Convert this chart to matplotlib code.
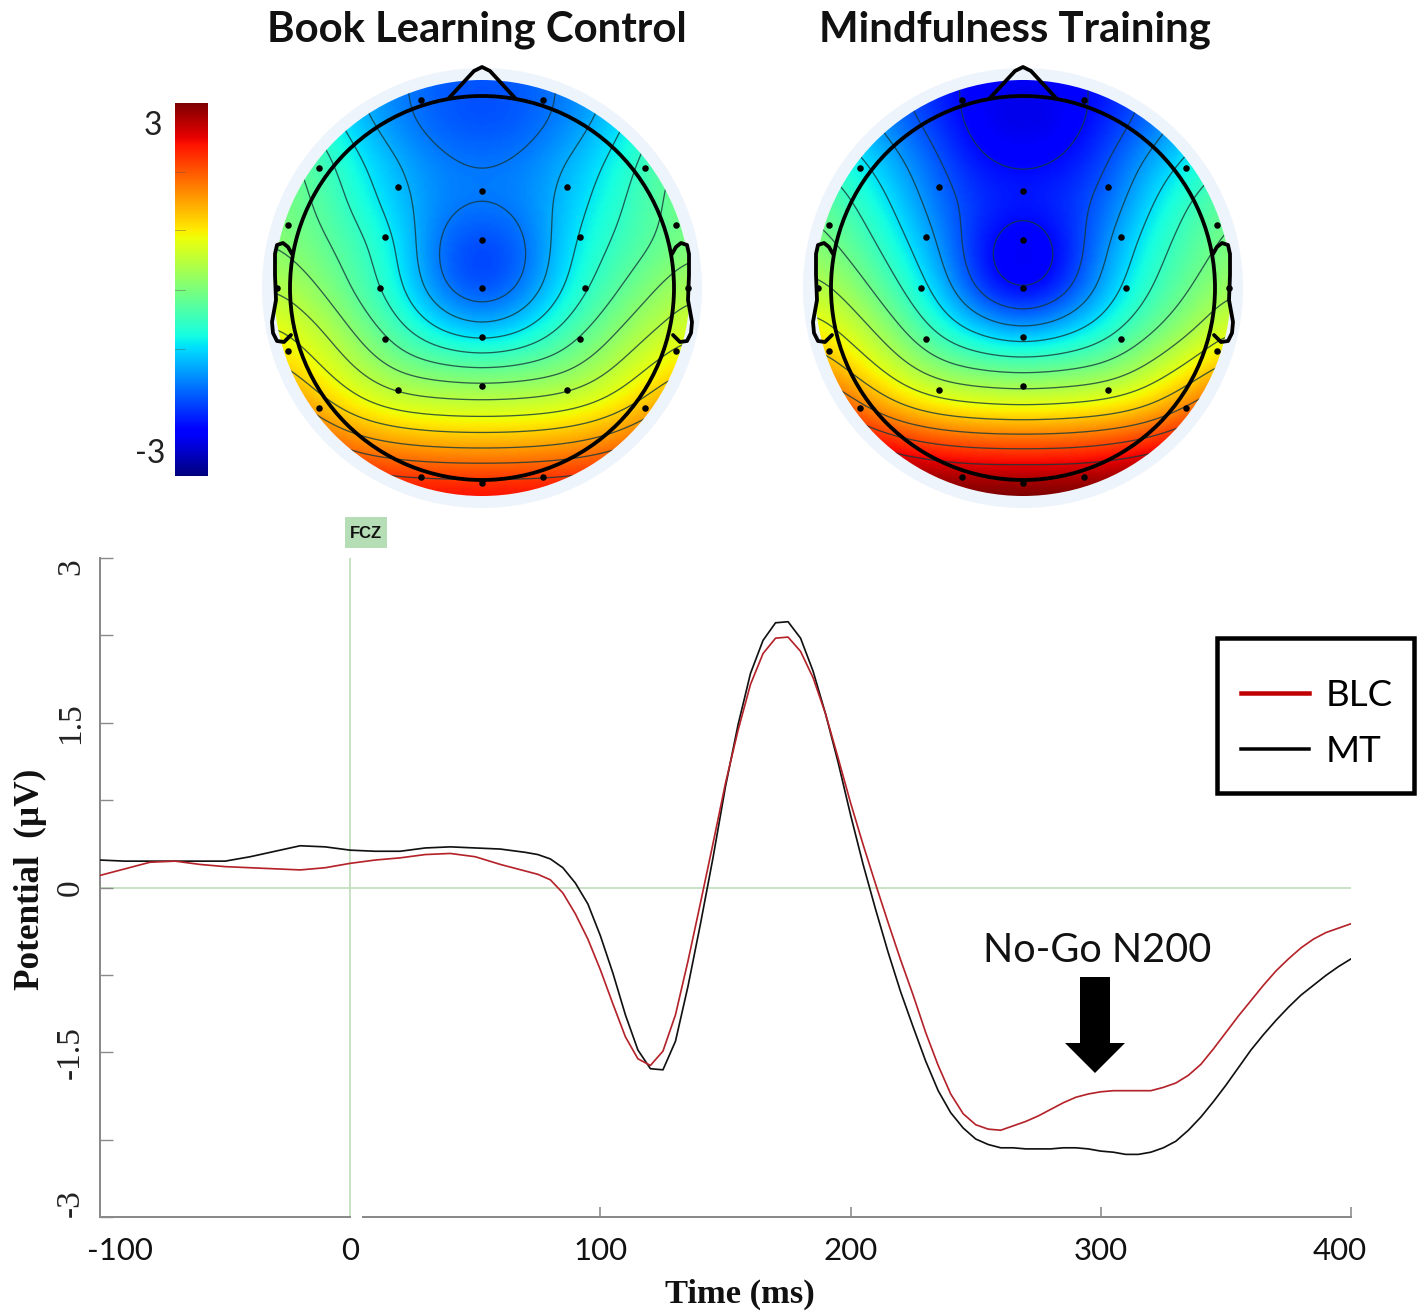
#!/usr/bin/env python3
"""
No-Go N200: scalp maps for both groups and the FCZ waveform below them
"""

import numpy as np
import matplotlib
matplotlib.use('Agg')
import matplotlib.pyplot as plt
from matplotlib.lines import Line2D
from matplotlib.patches import Circle, FancyArrow, Rectangle

# waveform at FCZ (ms, uV)
times = [-100, -90, -80, -70, -60, -50, -40, -30, -20, -10, 0, 10, 20, 30, 40, 50, 60, 70,
         75, 80, 85, 90, 95, 100, 105, 110, 115, 120, 125, 130, 135, 140, 145, 150, 155, 160,
         165, 170, 175, 180, 185, 190, 195, 200, 205, 210, 215, 220, 225, 230, 235, 240, 245,
         250, 255, 260, 265, 270, 275, 280, 285, 290, 295, 300, 305, 310, 315, 320, 325, 330,
         335, 340, 345, 350, 355, 360, 365, 370, 375, 380, 385, 390, 395, 400]
blc_uv = [0.11, 0.17, 0.23, 0.24, 0.21, 0.19, 0.18, 0.17, 0.16, 0.18, 0.22, 0.25, 0.27, 0.30, 0.31, 0.28, 0.21, 0.15,
          0.12, 0.07, -0.05, -0.24, -0.47, -0.75, -1.06, -1.36, -1.56, -1.62, -1.49, -1.16, -0.67, -0.14, 0.40, 0.95, 1.43, 1.85,
          2.13, 2.27, 2.28, 2.15, 1.91, 1.58, 1.18, 0.77, 0.39, 0.03, -0.32, -0.66, -0.98, -1.32, -1.62, -1.88, -2.06,
          -2.16, -2.20, -2.21, -2.17, -2.13, -2.08, -2.02, -1.96, -1.91, -1.88, -1.86, -1.85, -1.85, -1.85, -1.85, -1.82, -1.78,
          -1.71, -1.61, -1.47, -1.32, -1.17, -1.03, -0.89, -0.76, -0.65, -0.55, -0.47, -0.41, -0.37, -0.33]
mt_uv = [0.25, 0.24, 0.24, 0.24, 0.24, 0.24, 0.28, 0.33, 0.38, 0.37, 0.34, 0.33, 0.33, 0.36, 0.37, 0.36, 0.35, 0.32,
         0.30, 0.26, 0.18, 0.04, -0.15, -0.44, -0.78, -1.16, -1.48, -1.65, -1.66, -1.40, -0.90, -0.33, 0.27, 0.92, 1.48, 1.95,
         2.25, 2.41, 2.42, 2.27, 1.97, 1.58, 1.14, 0.66, 0.21, -0.20, -0.59, -0.95, -1.27, -1.58, -1.85, -2.05, -2.19,
         -2.29, -2.34, -2.37, -2.37, -2.38, -2.38, -2.38, -2.37, -2.37, -2.38, -2.40, -2.41, -2.43, -2.43, -2.41, -2.37, -2.31,
         -2.21, -2.09, -1.95, -1.80, -1.64, -1.48, -1.34, -1.21, -1.09, -0.98, -0.89, -0.80, -0.72, -0.65]

# scalp potential, rows run front to back
blc_map = [
    [-0.6, -0.9, -1.3, -1.5, -1.7, -1.75, -1.7, -1.5, -1.3, -0.9, -0.6],
    [-0.3, -0.6, -1.1, -1.5, -1.75, -1.85, -1.75, -1.5, -1.1, -0.6, -0.3],
    [0.0, -0.3, -0.8, -1.2, -1.5, -1.55, -1.5, -1.2, -0.85, -0.4, 0.0],
    [0.0, -0.2, -0.65, -1.1, -1.45, -1.5, -1.45, -1.1, -0.7, -0.3, 0.0],
    [0.1, -0.1, -0.4, -0.85, -1.7, -1.95, -1.7, -0.95, -0.55, -0.25, 0.0],
    [0.45, 0.15, -0.3, -0.8, -1.6, -1.95, -1.6, -0.85, -0.35, 0.05, 0.4],
    [0.85, 0.55, 0.05, -0.45, -0.95, -1.2, -0.95, -0.45, 0.0, 0.4, 0.7],
    [1.25, 0.9, 0.45, 0.05, -0.05, -0.1, -0.05, 0.05, 0.4, 0.85, 1.15],
    [1.9, 1.4, 1.0, 0.8, 0.72, 0.7, 0.72, 0.8, 1.0, 1.35, 1.8],
    [2.5, 2.15, 1.85, 1.7, 1.62, 1.6, 1.62, 1.7, 1.85, 2.15, 2.5],
    [2.8, 2.7, 2.6, 2.55, 2.55, 2.55, 2.55, 2.55, 2.6, 2.7, 2.8],
]
mt_map = [
    [-1.1, -1.4, -1.8, -2.1, -2.3, -2.35, -2.3, -2.1, -1.8, -1.4, -1.1],
    [-0.9, -1.2, -1.6, -2.0, -2.45, -2.55, -2.45, -2.05, -1.65, -1.2, -0.9],
    [-0.5, -0.8, -1.25, -1.75, -2.2, -2.25, -2.2, -1.8, -1.25, -0.8, -0.45],
    [-0.1, -0.5, -1.0, -1.6, -1.95, -2.05, -1.95, -1.65, -0.95, -0.45, -0.1],
    [0.1, -0.25, -0.75, -1.35, -2.2, -2.55, -2.2, -1.35, -0.7, -0.3, 0.05],
    [0.5, 0.1, -0.45, -1.1, -2.05, -2.5, -2.05, -1.15, -0.55, -0.1, 0.3],
    [1.0, 0.55, 0.0, -0.65, -1.1, -1.35, -1.1, -0.7, -0.2, 0.25, 0.75],
    [1.55, 1.1, 0.55, 0.1, -0.05, -0.1, -0.05, 0.05, 0.45, 0.95, 1.45],
    [2.4, 1.85, 1.35, 1.1, 1.0, 0.95, 1.0, 1.1, 1.3, 1.8, 2.3],
    [3.0, 2.85, 2.6, 2.4, 2.3, 2.3, 2.3, 2.4, 2.6, 2.85, 3.0],
    [3.2, 3.2, 3.2, 3.2, 3.2, 3.2, 3.2, 3.2, 3.2, 3.2, 3.2],
]

# electrode offsets from the head centre (pixels)
elec_dx = [-61, 61, -163, 163, -84, 0, 85, -97, 0, 98, -102, 0, 103, -97, 0, 98,
           -84, 0, 85, -163, 163, -61, 0, 61, -194, 194, -194, 194, -205, 206]
elec_dy = [-188, -188, -120, -120, -101, -97, -101, -51, -48, -51, 0, 0, 0, 51, 49, 51,
           102, 98, 102, 120, 120, 189, 195, 189, -63, -63, 63, 63, 0, 0]

y_major = [-3, -1.5, 0, 1.5, 3]
y_labels = ['-3', '-1.5', '0', '1.5', '3']
y_minor = [-2.3, -0.8, 0.8, 2.3]
x_major = [-100, 0, 100, 200, 300, 400]
# end labels sit inside the axis ends (pixels)
x_label_shift = {-100: 20, 400: -11}

PX_W, PX_H = 1424, 1312
HEAD_R = 192
DISC_R = 208
HALO_R = 220
HEAD_Y = 288
SANS = 'Lato'
SERIF = 'Liberation Serif'


def px(n):
    # pixels to points at dpi 100
    return n * 0.72


def smooth_field(rows):
    coarse = np.array(rows, dtype=float)
    n = coarse.shape[0]
    step = 16
    idx = np.arange(n)
    fine = np.linspace(0, n - 1, (n - 1) * step + 1)
    field = np.array([np.interp(fine, idx, r) for r in coarse])
    field = np.array([np.interp(fine, idx, c) for c in field.T]).T
    kernel = np.ones(step + 1) / (step + 1)
    pad = step // 2
    for _ in range(2):
        for axis in (0, 1):
            padded = np.pad(field, [(pad, pad) if a == axis else (0, 0) for a in (0, 1)], mode='edge')
            field = np.apply_along_axis(lambda v: np.convolve(v, kernel, mode='valid'), axis, padded)
    return field


def draw_head(ax, cx, rows, levels):
    ax.add_patch(Circle((cx, HEAD_Y), HALO_R, facecolor='#eef4fb', edgecolor='none', zorder=1))

    span = HEAD_R * 1.1
    field = smooth_field(rows)
    disc = Circle((cx, HEAD_Y), DISC_R, transform=ax.transData)
    im = ax.imshow(field, cmap='jet', vmin=-3, vmax=3, interpolation='bilinear', aspect='auto',
                   extent=(cx - span, cx + span, HEAD_Y + span, HEAD_Y - span), zorder=2)
    im.set_clip_path(disc)

    xs = np.linspace(cx - span, cx + span, field.shape[1])
    ys = np.linspace(HEAD_Y - span, HEAD_Y + span, field.shape[0])
    cs = ax.contour(xs, ys, field, levels=levels, colors='#14393c', linewidths=px(1.3), linestyles='solid',
                    alpha=0.8, zorder=3)
    cs.set_clip_path(disc)

    # head outline, nose and ears
    outline = dict(color='black', lw=px(3.8), solid_joinstyle='round', solid_capstyle='round', zorder=5)
    ax.add_patch(Circle((cx, HEAD_Y), HEAD_R, fill=False, edgecolor='black', lw=px(3.8), zorder=5))
    ax.plot([cx - 33, cx - 8, cx, cx + 8, cx + 33], [98, 71, 67, 71, 98], **outline)
    ear_x = np.array([-190, -194, -199, -205, -207, -207, -206, -210, -209, -205, -198, -191])
    ear_y = [254, 247, 243, 245, 254, 275, 300, 322, 333, 341, 342, 335]
    ax.plot(cx + ear_x, ear_y, **outline)
    ax.plot(cx - ear_x, ear_y, **outline)

    ax.scatter(cx + np.array(elec_dx), HEAD_Y + np.array(elec_dy), s=22, color='black', linewidths=0, zorder=6)


fig = plt.figure(figsize=(PX_W / 100, PX_H / 100), dpi=100, facecolor='white')

# === waveform ===
ax = fig.add_axes([100 / PX_W, 1 - 1217 / PX_H, 1251 / PX_W, 659 / PX_H])
ax.set_xlim(-100, 400)
ax.set_ylim(-3, 3)
ax.patch.set_alpha(0)

green = '#c3dfbf'
ax.axvline(0, color=green, lw=px(1.8), zorder=1)
ax.axhline(0, color=green, lw=px(1.8), zorder=1)
ax.plot(times, mt_uv, color='#111111', lw=px(1.7), zorder=3)
ax.plot(times, blc_uv, color='#b5232a', lw=px(1.7), zorder=4)

for side in ('top', 'right', 'bottom'):
    ax.spines[side].set_visible(False)
ax.spines['left'].set_color('#8a8a8a')
ax.spines['left'].set_linewidth(px(2))
# the baseline is broken just after stimulus onset
ax.plot([-100, 0], [-3, -3], color='#8a8a8a', lw=px(2), clip_on=False, zorder=2)
ax.plot([5, 400], [-3, -3], color='#8a8a8a', lw=px(2), clip_on=False, zorder=2)

ax.set_xticks(x_major[2:])
ax.set_xticks(x_major[:2], minor=True)
ax.tick_params(axis='x', which='major', direction='in', length=px(10), width=px(1.6), color='#8a8a8a', labelbottom=False)
ax.tick_params(axis='x', which='minor', length=0, labelbottom=False)
for t in x_major:
    ax.annotate(str(t), xy=(t, -3), xytext=(px(x_label_shift.get(t, 0)), -px(34)), textcoords='offset points',
                ha='center', va='center', family=SANS, fontsize=22.5, color='#111111')

ax.set_yticks(y_major)
ax.set_yticks(y_minor, minor=True)
ax.set_yticklabels(y_labels, family=SERIF, fontsize=24, rotation=90, color='#222222')
ax.tick_params(axis='y', which='both', direction='in', length=px(13), width=px(1.4), color='#8a8a8a', pad=px(14))
for lab, val in zip(ax.get_yticklabels(), y_major):
    lab.set_rotation_mode('default')
    lab.set_verticalalignment('top' if val == 3 else 'bottom' if val == -3 else 'center')

handles = [Line2D([], [], color='#c00000', lw=px(4.5)), Line2D([], [], color='black', lw=px(3.5))]
ax.legend(handles, ['BLC', 'MT'], loc='upper left', bbox_to_anchor=(1241 / PX_W, 1 - 679 / PX_H),
          bbox_transform=fig.transFigure, frameon=False, handlelength=1.85, handletextpad=0.45,
          borderpad=0, labelspacing=0.62, prop=dict(family=SANS, size=26.5), borderaxespad=0)

# === everything placed by pixel on top ===
top = fig.add_axes([0, 0, 1, 1])
top.patch.set_alpha(0)
top.axis('off')

levels_blc = -1.55 + 0.33 * np.arange(0, 12)
levels_mt = -2.2 + 0.42 * np.arange(0, 12)
draw_head(top, 482, blc_map, levels_blc)
draw_head(top, 1023, mt_map, levels_mt)

top.text(477, 30, 'Book Learning Control', ha='center', va='center', family=SANS, fontweight='bold', fontsize=30.2, color='#111111')
top.text(1015, 30, 'Mindfulness Training', ha='center', va='center', family=SANS, fontweight='bold', fontsize=30.2, color='#111111')

# colour bar
bar = np.linspace(3, -3, 256).reshape(-1, 1)
top.imshow(bar, cmap='jet', vmin=-3, vmax=3, aspect='auto', extent=(175, 208, 476, 103), zorder=2)
for tick_y in [172, 230, 290, 349]:
    top.plot([175, 185], [tick_y, tick_y], color='#555555', lw=px(0.8), alpha=0.5, zorder=3)
top.text(153, 126, '3', ha='center', va='center', family=SANS, fontsize=23, color='#222222')
top.text(150, 454, '-3', ha='center', va='center', family=SANS, fontsize=23, color='#222222')

# FCZ tag
top.add_patch(Rectangle((345, 517), 42, 31, facecolor='#b6deb6', edgecolor='none', zorder=2))
top.text(366, 533, 'FCZ', ha='center', va='center', family='Liberation Sans', fontweight='bold', fontsize=12, color='#111111', zorder=3)

# legend box drawn by hand so its padding can differ per side
top.add_patch(Rectangle((1217, 638), 197, 155, fill=False, edgecolor='black', lw=px(4.5), zorder=5))

# N200 marker
top.text(1097, 950, 'No-Go N200', ha='center', va='center', family=SANS, fontsize=28.5, color='#111111')
top.add_patch(FancyArrow(1095, 977, 0, 96, width=30, head_width=60, head_length=30, length_includes_head=True,
                         facecolor='black', edgecolor='none', zorder=5))

top.text(740, 1294, 'Time (ms)', ha='center', va='center', family=SERIF, fontweight='bold', fontsize=24.8, color='#111111')
top.text(30, 879, 'Potential  (µV)', ha='center', va='center', rotation=90, family=SERIF, fontweight='bold', fontsize=25.3, color='#111111')

top.set_xlim(0, PX_W)
top.set_ylim(PX_H, 0)

plt.savefig('out.png', dpi=100)
